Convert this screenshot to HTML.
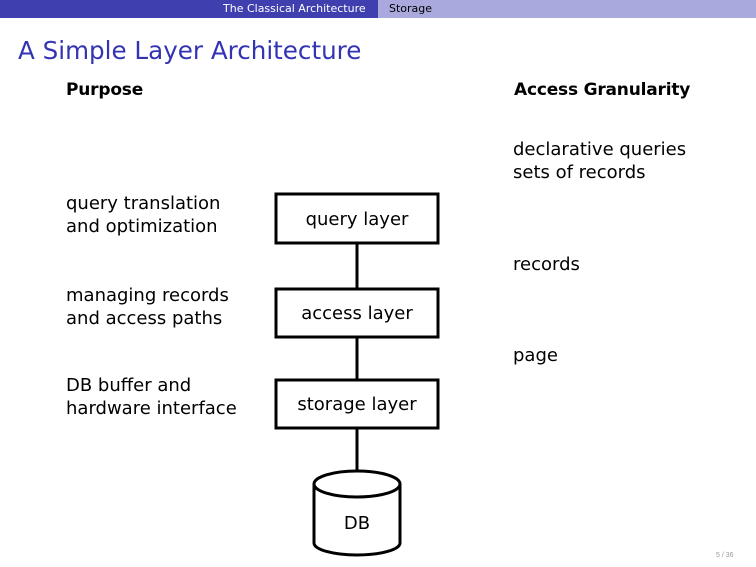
<!DOCTYPE html>
<html><head><style>
body{margin:0;width:756px;height:567px;background:#fff;position:relative;overflow:hidden;font-family:"DejaVu Sans","Liberation Sans",sans-serif;}
.t{position:absolute;white-space:nowrap;color:#000;}
</style></head><body>
<div style="position:absolute;left:0;top:0;width:378px;height:18px;background:#3f3fb0"></div>
<div style="position:absolute;left:378px;top:0;width:378px;height:18px;background:#a9a9dd"></div>
<div class="t" style="left:223px;top:2px;font-size:11px;color:#fff">The Classical Architecture</div>
<div class="t" style="left:389px;top:2px;font-size:11px">Storage</div>
<div class="t" style="left:18px;top:36px;font-size:24.6px;color:#3333b3">A Simple Layer Architecture</div>
<div class="t" style="left:66px;top:80px;font-size:17px;font-weight:bold;letter-spacing:-0.2px">Purpose</div>
<div class="t" style="left:514px;top:80px;font-size:17px;font-weight:bold;letter-spacing:-0.2px">Access Granularity</div>
<div class="t" style="left:66px;top:192px;font-size:18px;line-height:23px">query translation<br>and optimization</div>
<div class="t" style="left:66px;top:284px;font-size:18px;line-height:23px">managing records<br>and access paths</div>
<div class="t" style="left:66px;top:374px;font-size:18px;line-height:23px">DB buffer and<br>hardware interface</div>
<div class="t" style="left:513px;top:138px;font-size:18px;line-height:23px">declarative queries<br>sets of records</div>
<div class="t" style="left:513px;top:254px;font-size:18px">records</div>
<div class="t" style="left:513px;top:345px;font-size:18px">page</div>
<svg style="position:absolute;left:0;top:0" width="756" height="567">
<g stroke="#000" stroke-width="3" fill="#fff">
<line x1="357" y1="243" x2="357" y2="289"/>
<line x1="357" y1="337" x2="357" y2="380"/>
<line x1="357" y1="428" x2="357" y2="471"/>
<rect x="276" y="194" width="162" height="49"/>
<rect x="276" y="289" width="162" height="48"/>
<rect x="276" y="380" width="162" height="48"/>
<path d="M314 484 L314 543 A43 12 0 0 0 400 543 L400 484"/>
<ellipse cx="357" cy="484" rx="43" ry="13"/>
</g>
<g font-size="18" text-anchor="middle" font-family="DejaVu Sans,Liberation Sans,sans-serif">
<text x="357" y="225">query layer</text>
<text x="357" y="319">access layer</text>
<text x="357" y="410">storage layer</text>
<text x="357" y="529">DB</text>
</g>
<text x="716" y="557" font-size="7" fill="#999" font-family="Liberation Sans,sans-serif">5 / 36</text>
</svg>
</body></html>
